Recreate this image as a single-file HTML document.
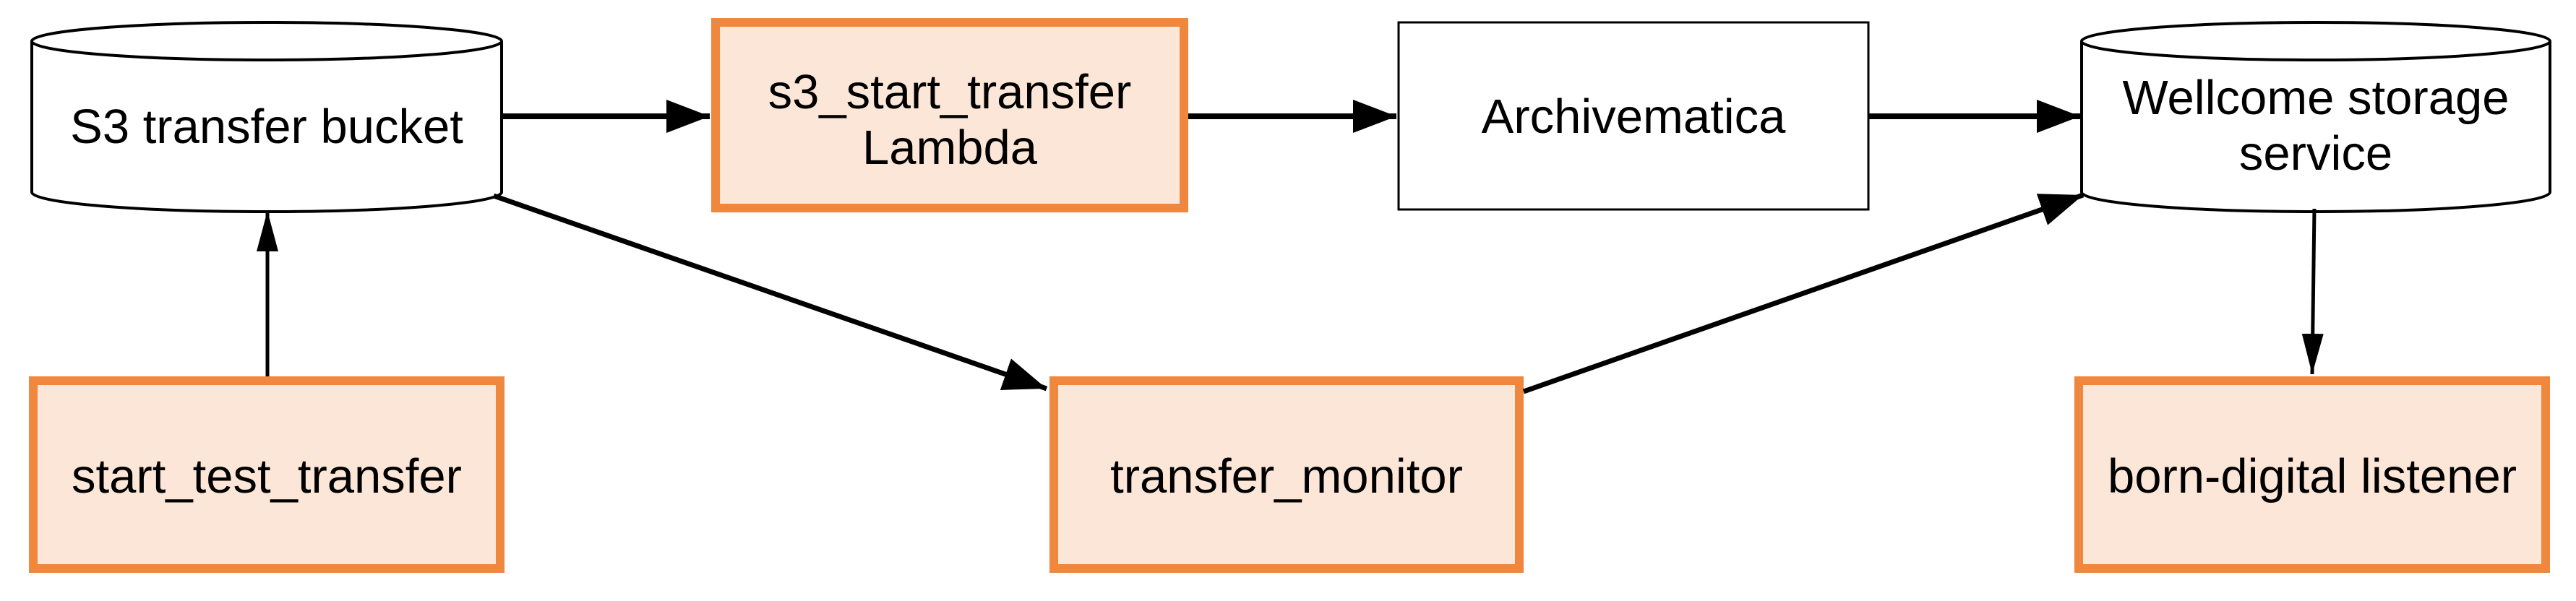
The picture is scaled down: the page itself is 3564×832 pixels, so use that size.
<!DOCTYPE html>
<html><head><meta charset="utf-8"><style>
html,body{margin:0;padding:0;background:#fff;}
svg{display:block;}
text{font-family:"Liberation Sans",Arial,sans-serif;font-size:67px;fill:#000;text-anchor:middle;}
</style></head><body>
<svg width="3564" height="832" viewBox="0 0 3564 832" xmlns="http://www.w3.org/2000/svg">
<defs>
<marker id="ah" markerUnits="userSpaceOnUse" markerWidth="64" markerHeight="50" refX="60" refY="23" orient="auto">
<path d="M0,0 L60,23 L0,46 Z" fill="#000"/></marker>
<marker id="vn" markerUnits="userSpaceOnUse" markerWidth="60" markerHeight="34" refX="56" refY="15" orient="auto">
<path d="M0,0 L56,15 L0,30 Z" fill="#000"/></marker>
</defs>

<path d="M44,57 L44,266 A325,27 0 0 0 694,266 L694,57" fill="#fff" stroke="#000" stroke-width="4"/>
<ellipse cx="369" cy="57" rx="325" ry="26" fill="#fff" stroke="#000" stroke-width="4"/>
<text x="369" y="198">S3 transfer bucket</text>

<rect x="990" y="31" width="648" height="257" fill="#fce6d8" stroke="#ef873e" stroke-width="12"/>
<text x="1314" y="150">s3_start_transfer</text>
<text x="1314" y="227">Lambda</text>

<rect x="1935" y="31" width="650" height="259" fill="#fff" stroke="#000" stroke-width="3"/>
<text x="2260" y="184">Archivematica</text>

<path d="M2880,57 L2880,266 A324,27 0 0 0 3528,266 L3528,57" fill="#fff" stroke="#000" stroke-width="4"/>
<ellipse cx="3204" cy="57" rx="324" ry="26" fill="#fff" stroke="#000" stroke-width="4"/>
<text x="3204" y="158">Wellcome storage</text>
<text x="3204" y="235">service</text>

<rect x="46" y="527" width="646" height="260" fill="#fce6d8" stroke="#ef873e" stroke-width="12"/>
<text x="369" y="682">start_test_transfer</text>
<rect x="1458" y="527" width="644" height="260" fill="#fce6d8" stroke="#ef873e" stroke-width="12"/>
<text x="1780" y="682">transfer_monitor</text>
<rect x="2876" y="527" width="646" height="260" fill="#fce6d8" stroke="#ef873e" stroke-width="12"/>
<text x="3199" y="682">born-digital listener</text>

<g stroke="#000" fill="none">
<line x1="694" y1="161" x2="982" y2="161" stroke-width="8" marker-end="url(#ah)"/>
<line x1="1644" y1="161" x2="1932" y2="161" stroke-width="8" marker-end="url(#ah)"/>
<line x1="2585" y1="161" x2="2878" y2="161" stroke-width="8" marker-end="url(#ah)"/>
<line x1="683" y1="271" x2="1448" y2="538" stroke-width="7" marker-end="url(#ah)"/>
<line x1="2108" y1="542" x2="2882" y2="270" stroke-width="7" marker-end="url(#ah)"/>
<line x1="370" y1="521" x2="370" y2="292" stroke-width="5" marker-end="url(#vn)"/>
<line x1="3202" y1="289" x2="3199" y2="518" stroke-width="5" marker-end="url(#vn)"/>
</g>
</svg>
</body></html>
